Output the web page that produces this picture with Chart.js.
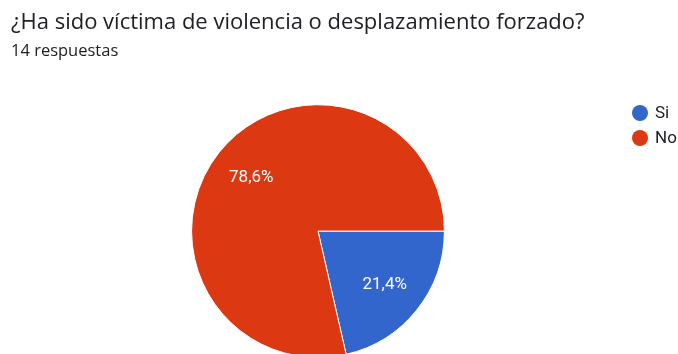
<!DOCTYPE html>
<html>
<head>
<meta charset="utf-8">
<script src="https://cdn.jsdelivr.net/npm/chart.js@4"></script>
<style>
  html, body { margin: 0; padding: 0; background: #fff; overflow: hidden; }
  #wrap { position: absolute; left: 0; top: 0; width: 678px; height: 420px; }
</style>
</head>
<body>
<div id="wrap"><canvas id="mychart" width="678" height="420"></canvas></div>
<script>
var titleText = '¿Ha sido víctima de violencia o desplazamiento forzado?';
var subtitleText = '14 respuestas';
var labels = ['Si', 'No'];
var counts = [3, 11];
var colors = ['#3366cc', '#dc3912'];

// porcentajes dentro de cada porción
var pctLabels = {
  id: 'pctLabels',
  afterDatasetsDraw: function(chart) {
    var ctx = chart.ctx;
    var meta = chart.getDatasetMeta(0);
    var total = counts.reduce(function(a, b) { return a + b; }, 0);
    ctx.save();
    ctx.fillStyle = '#ffffff';
    ctx.font = '17px Roboto';
    ctx.textAlign = 'center';
    ctx.textBaseline = 'middle';
    meta.data.forEach(function(arc, i) {
      var p = arc.getProps(['x', 'y', 'startAngle', 'endAngle', 'outerRadius'], true);
      var mid = (p.startAngle + p.endAngle) / 2;
      var r = p.outerRadius * 0.675;
      var txt = (counts[i] / total * 100).toFixed(1).replace('.', ',') + '%';
      ctx.fillText(txt, p.x + Math.cos(mid) * r, p.y + Math.sin(mid) * r);
    });
    ctx.restore();
  }
};

// leyenda a la derecha, arriba
var sideLegend = {
  id: 'sideLegend',
  afterDraw: function(chart) {
    var ctx = chart.ctx;
    ctx.save();
    ctx.font = '17px Roboto';
    ctx.textBaseline = 'middle';
    ctx.textAlign = 'left';
    labels.forEach(function(lab, i) {
      var y = 113 + i * 25;
      ctx.fillStyle = colors[i];
      ctx.beginPath();
      ctx.arc(640, y, 8, 0, Math.PI * 2);
      ctx.fill();
      ctx.fillStyle = '#202124';
      ctx.fillText(lab, 655, y + 1);
    });
    ctx.restore();
  }
};

var ctx = document.getElementById('mychart');
var myChart = new Chart(ctx, {
  type: 'pie',
  data: {
    labels: labels,
    datasets: [{
      data: counts,
      backgroundColor: colors,
      borderColor: '#ffffff',
      borderWidth: 1,
      hoverOffset: 0
    }]
  },
  options: {
    responsive: false,
    animation: false,
    rotation: 90,
    layout: { padding: { left: 11, right: 53, top: 0, bottom: 62 } },
    plugins: {
      title: {
        display: true,
        text: titleText,
        align: 'start',
        color: '#202124',
        font: { family: 'Open Sans', size: 22, weight: 'normal', lineHeight: 1.2 },
        padding: { top: 10, bottom: 3 }
      },
      subtitle: {
        display: true,
        text: subtitleText,
        align: 'start',
        color: '#202124',
        font: { family: 'Open Sans', size: 16.5, weight: 'normal', lineHeight: 1.2 },
        padding: { top: 2, bottom: 43 }
      },
      legend: { display: false },
      tooltip: { enabled: false }
    }
  },
  plugins: [pctLabels, sideLegend]
});
</script>
</body>
</html>
